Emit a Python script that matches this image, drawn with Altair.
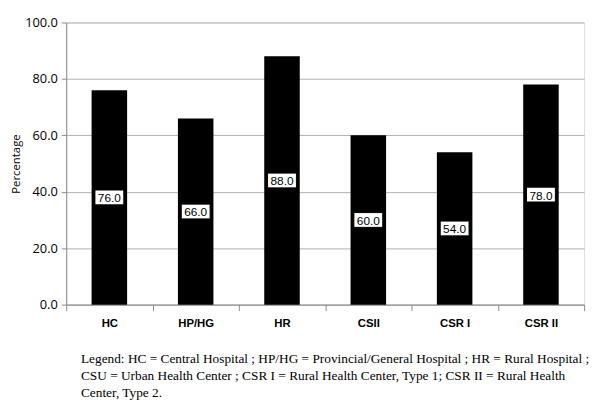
import altair as alt
import pandas as pd

categories = ["HC", "HP/HG", "HR", "CSII", "CSR I", "CSR II"]
values = [76.0, 66.0, 88.0, 60.0, 54.0, 78.0]
y_ticks = [0, 20, 40, 60, 80, 100]
legend_lines = [
    "Legend: HC = Central Hospital ; HP/HG = Provincial/General Hospital ; HR = Rural Hospital ;",
    "CSU = Urban Health Center ; CSR I = Rural Health Center, Type 1; CSR II = Rural Health",
    "Center, Type 2.",
]

df = pd.DataFrame({"cat": categories, "val": values})
df["mid"] = df["val"] / 2
df["lab"] = df["val"].map(lambda v: f"{v:.1f}")

x_enc = alt.X(
    "cat:N",
    sort=categories,
    title=None,
    scale=alt.Scale(paddingInner=0, paddingOuter=0),
    axis=alt.Axis(
        labelAngle=0,
        labelFont="Liberation Sans",
        labelFontWeight="bold",
        labelFontSize=11.5,
        labelColor="#000000",
        labelPadding=7,
        tickBand="extent",
        tickSize=6,
        tickColor="#8a8a8a",
        domainColor="#8a8a8a",
    ),
)

y_scale = alt.Scale(domain=[0, 100], nice=False)

bars = alt.Chart(df).mark_bar(color="#000000", width=36).encode(
    x=x_enc,
    y=alt.Y(
        "val:Q",
        scale=y_scale,
        title="Percentage",
        axis=alt.Axis(
            values=y_ticks,
            format=".1f",
            labelFont="Open Sans",
            labelFontSize=13,
            labelColor="#000000",
            labelPadding=4,
            tickSize=5,
            tickColor="#8a8a8a",
            domainColor="#8a8a8a",
            gridColor="#b0b0b0",
            titleFont="Open Sans",
            titleFontSize=11.5,
            titleFontWeight="normal",
            titleColor="#000000",
            titleX=-50,
            titleBaseline="middle",
        ),
    ),
)

boxes = alt.Chart(df).mark_point(
    shape="M-1.95,-1L1.95,-1L1.95,1L-1.95,1Z",
    size=225,
    filled=True,
    fill="#ffffff",
    stroke="#000000",
    strokeWidth=1,
    opacity=1,
).encode(
    x=alt.X("cat:N", sort=categories),
    y=alt.Y("mid:Q", scale=y_scale),
)

texts = alt.Chart(df).mark_text(
    font="Liberation Sans", fontSize=12, color="#000000", baseline="middle", dy=1
).encode(
    x=alt.X("cat:N", sort=categories),
    y=alt.Y("mid:Q", scale=y_scale),
    text="lab:N",
)

chart = (
    alt.layer(bars, boxes, texts)
    .properties(
        width=525,
        height=286,
        autosize=alt.AutoSizeParams(type="none"),
        padding={"left": 59, "top": 12, "right": 8, "bottom": 95},
        title=alt.TitleParams(
            text=legend_lines,
            orient="bottom",
            anchor="start",
            frame="group",
            font="Liberation Serif",
            fontSize=13.5,
            fontWeight="normal",
            color="#000000",
            lineHeight=17,
            dx=15,
            offset=24,
        ),
    )
    .configure_view(stroke="#606060", strokeWidth=1)
    .configure(background="#ffffff")
)

chart.save("out.html", embed_options={"renderer": "svg", "actions": False})
